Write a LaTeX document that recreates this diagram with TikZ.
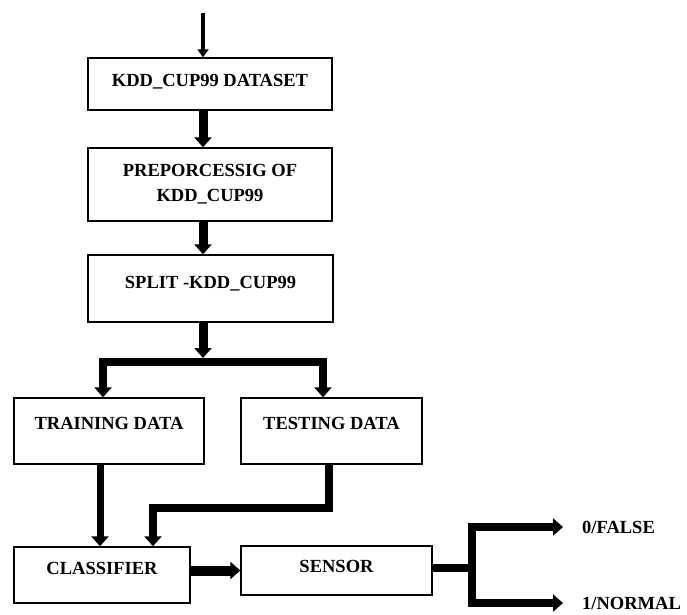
\documentclass[tikz,border=0pt]{standalone}
\usepackage{fontspec}
\setmainfont{Liberation Serif}
\usetikzlibrary{arrows.meta}
\begin{document}
\begin{tikzpicture}[x=1pt,y=1pt,yscale=-1,xscale=1,
  blk/.style={draw, rectangle, line width=1.4pt, inner sep=0pt, align=center,
    font=\fontsize{18.5}{25}\selectfont\bfseries},
  flow/.style={line width=8pt, -{Triangle[width=17pt,length=10pt]}},
  bar/.style={line width=8pt},
  outlbl/.style={inner sep=0pt, anchor=west, font=\fontsize{18.5}{22}\selectfont\bfseries}]
\useasboundingbox (0,0) rectangle (687,614);
% boxes
\node [blk, minimum width=244, minimum height=52, text depth=7] (dataset) at (210,84) {KDD\_CUP99 DATASET};
\node [blk, minimum width=244, minimum height=73] (prep) at (210,184.5) {PREPORCESSIG OF\\KDD\_CUP99};
\node [blk, minimum width=245, minimum height=67, text depth=13] (split) at (210.5,288.5) {SPLIT -KDD\_CUP99};
\node [blk, minimum width=190, minimum height=66, text depth=16] (train) at (109,431) {TRAINING DATA};
\node [blk, minimum width=181, minimum height=66, text depth=16] (test) at (331.5,431) {TESTING DATA};
\node [blk, minimum width=176, minimum height=56, text depth=14] (clf) at (102,575) {CLASSIFIER};
\node [blk, minimum width=191, minimum height=49, text depth=9] (sensor) at (336.5,570.5) {SENSOR};
\node [outlbl] (lblfalse) at (582,527) {0/FALSE};
\node [outlbl] (lblnormal) at (582,603) {1/NORMAL};
% spine
\coordinate (top) at (203,13);
\coordinate (forktip) at (203,358);
\coordinate (fork) at (203,362);
\draw [line width=4pt, -{Triangle[width=11pt,length=8pt]}] (top) -- (dataset.north -| top);
\draw [flow, line width=9pt] (dataset.south -| top) -- (prep.north -| top);
\draw [flow, line width=9pt] (prep.south -| top) -- (split.north -| top);
\draw [flow, line width=9pt] (split.south -| top) -- (forktip);
\draw [flow] (fork) -| ([xshift=-6pt]train.north);
\draw [flow] (fork) -| ([xshift=-8.5pt]test.north);
% into the classifier
\draw [flow, line width=7pt] ([xshift=-9pt]train.south) -- ([xshift=-2pt]clf.north);
\draw [flow] ([xshift=-3pt]test.south) -- ++(0,43) -| ([xshift=51pt]clf.north);
\draw [flow, line width=10pt] (clf.east |- sensor.west) -- (sensor.west);
% outputs
\coordinate (fork2) at (472,568);
\draw [bar] (sensor.east |- fork2) -- (fork2);
\draw [flow] (fork2) |- ([xshift=-19pt]lblfalse.west);
\draw [flow] (fork2) |- ([xshift=-19pt]lblnormal.west);
\end{tikzpicture}
\end{document}
